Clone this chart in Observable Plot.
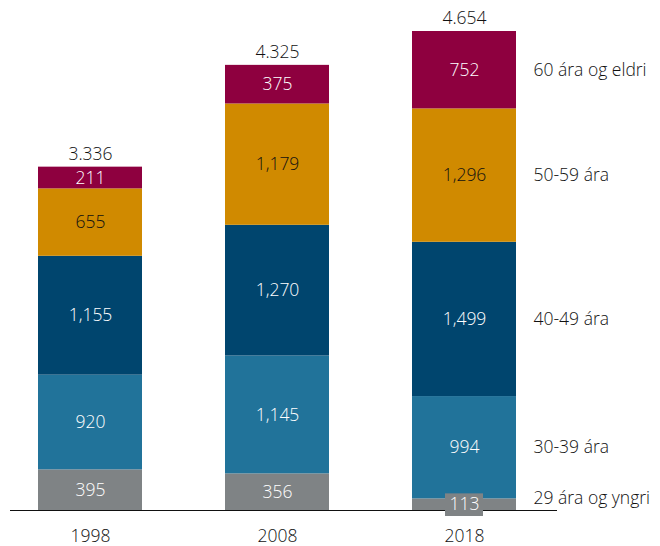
<!DOCTYPE html>
<html><head><meta charset="utf-8">
<script src="https://cdn.jsdelivr.net/npm/d3@7"></script>
<script src="https://cdn.jsdelivr.net/npm/@observablehq/plot@0.6"></script>
<style>body{margin:0;background:#fff}</style>
</head><body><div id="chart"></div>
<script>
const years = ["1998", "2008", "2018"];
const groups = ["29 ára og yngri", "30-39 ára", "40-49 ára", "50-59 ára", "60 ára og eldri"];
const v29 = [395, 356, 113];
const v30 = [920, 1145, 994];
const v40 = [1155, 1270, 1499];
const v50 = [655, 1179, 1296];
const v60 = [211, 375, 752];
const totalLabels = ["3.336", "4.325", "4.654"];
const colors = ["#7f8385", "#21739a", "#00456e", "#d08a00", "#8e003f"];

const series = [v29, v30, v40, v50, v60];
const rows = [];
years.forEach((year, i) => {
  let acc = 0;
  series.forEach((s, g) => {
    const v = s[i];
    rows.push({year, group: groups[g], gi: g, value: v, y1: acc, y2: acc + v, mid: acc + v / 2});
    acc += v;
  });
});
const totals = years.map((year, i) => ({year, total: d3.sum(series, s => s[i]), label: totalLabels[i]}));
const maxTotal = d3.max(totals, d => d.total);
const last = rows.filter(d => d.year === years[years.length - 1]);
const fmt = d3.format(",");
const font = "'Open Sans', sans-serif";
const fs = 17.5;

const chart = Plot.plot({
  width: 660,
  height: 546,
  marginLeft: 10,
  marginRight: 103,
  marginBottom: 36,
  style: {fontFamily: font, fontSize: fs + "px", fontWeight: 300, color: "#111"},
  x: {domain: years, range: [37, 516], paddingInner: 0.445, paddingOuter: 0, label: null},
  y: {domain: [0, maxTotal], range: [510, 31], axis: null},
  color: {domain: groups, range: colors},
  marks: [
    Plot.barY(rows, {x: "year", y1: "y1", y2: "y2", fill: "group"}),
    Plot.ruleY([0], {stroke: "#111", strokeWidth: 1}),
    Plot.barY(rows.filter(d => d.value < 200), {x: "year", y1: "y1", y2: "y2", fill: "group",
      insetLeft: 33, insetRight: 33, insetTop: -5, insetBottom: -6}),
    Plot.text(rows.filter(d => d.gi !== 3), {x: "year", y: "mid", text: d => fmt(d.value), fill: "white", fontSize: fs, fontWeight: 300}),
    Plot.text(rows.filter(d => d.gi === 3), {x: "year", y: "mid", text: d => fmt(d.value), fill: "#111", fontSize: fs, fontWeight: 300}),
    Plot.text(totals, {x: "year", y: "total", text: "label", dy: -13, fill: "#111", fontSize: fs, fontWeight: 300}),
    Plot.text(last.filter(d => d.value >= 200), {x: "year", y: "mid", text: "group", dx: 69, textAnchor: "start", fill: "#111", fontSize: fs, fontWeight: 300}),
    Plot.text(last.filter(d => d.value < 200), {x: "year", y: "mid", text: "group", dx: 69, dy: -6, textAnchor: "start", fill: "#111", fontSize: fs, fontWeight: 300}),
    Plot.axisX({tickSize: 0, tickPadding: 19, fontSize: fs, fill: "#111", label: null})
  ]
});
document.getElementById("chart").appendChild(chart);
</script>
</body></html>
